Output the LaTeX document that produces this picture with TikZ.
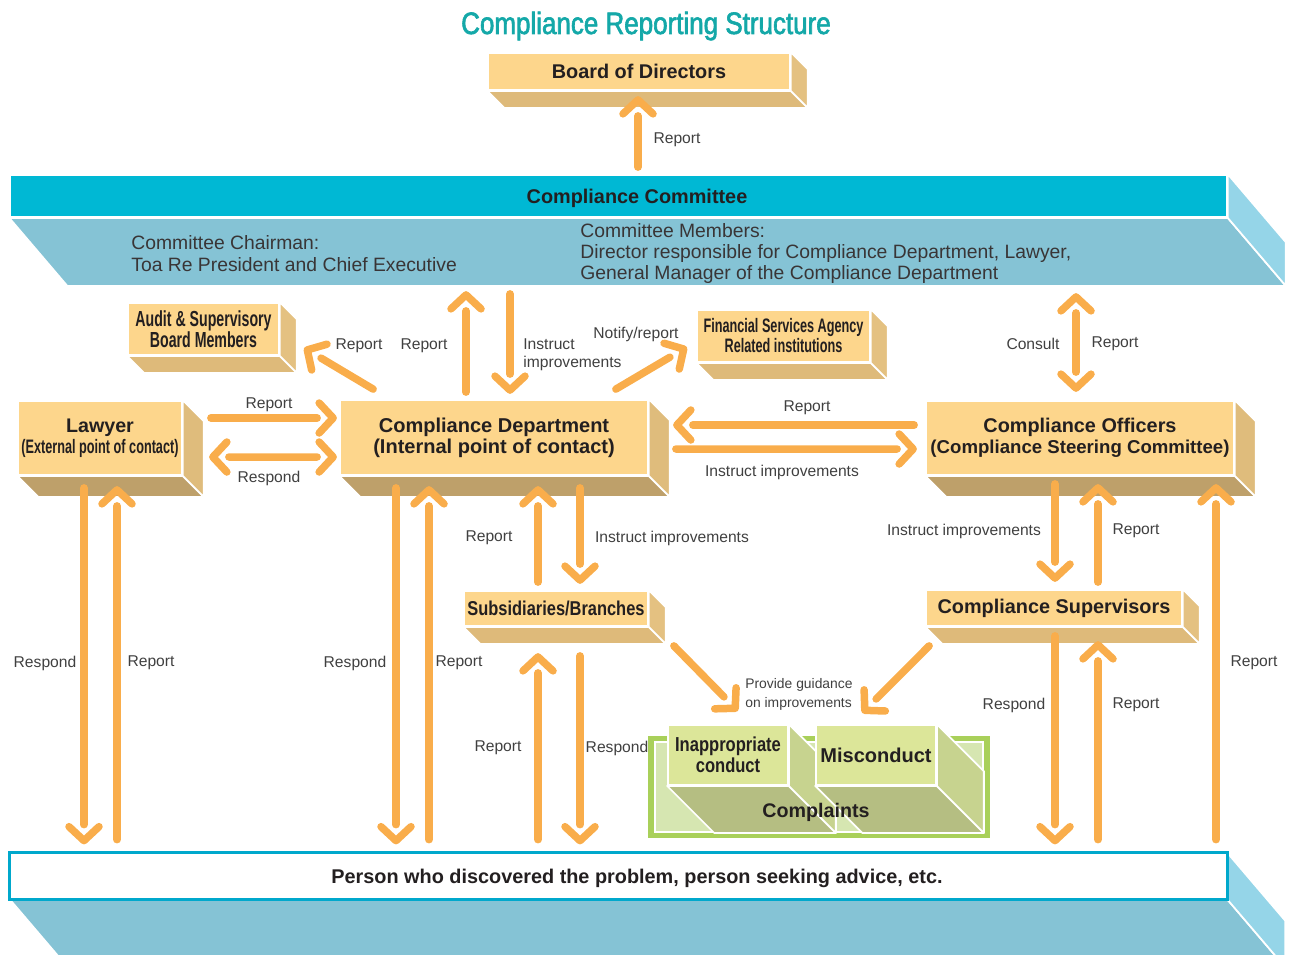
\documentclass[tikz,border=0pt]{standalone}
\usepackage{fontspec}
\setmainfont{Liberation Sans}
\newfontfamily\titlefont[FakeStretch=0.84,FakeBold=2]{Liberation Sans}
\newfontfamily\narrowfont[FakeStretch=0.65]{Liberation Sans}
\newfontfamily\semifont[FakeStretch=0.82]{Liberation Sans}
\usetikzlibrary{calc}
\definecolor{frontcol}{HTML}{FDD68C}
\definecolor{sidecol}{HTML}{E4C181}
\definecolor{basecol}{HTML}{DEBA7A}
\definecolor{darkbase}{HTML}{BEA06A}
\definecolor{darkside}{HTML}{DFBC7C}
\definecolor{cyantop}{HTML}{00B8D4}
\definecolor{bandcol}{HTML}{85C3D5}
\definecolor{bandside}{HTML}{95D5E8}
\definecolor{edgecyan}{HTML}{00A8CC}
\definecolor{flowcol}{HTML}{F9AD4B}
\definecolor{titlecol}{HTML}{14A8A8}
\definecolor{textdark}{HTML}{231F20}
\definecolor{labelgray}{HTML}{404040}
\definecolor{greenframe}{HTML}{A9D05A}
\definecolor{greeninner}{HTML}{D6E6B1}
\definecolor{greenfront}{HTML}{DCE699}
\definecolor{greenside}{HTML}{C7D38F}
\definecolor{greenbase}{HTML}{B5BE82}

\tikzset{
  flowline/.style={draw=flowcol, line width=0.15cm, line cap=round, line join=round},
  chev/.pic={\draw[flowline, shorten >=0pt, shorten <=0pt] (-18,-15) -- (-4,0) -- (-18,15);},
  frontbox/.style={fill=frontcol, draw=white, line width=1pt, inner sep=0pt, align=center, text=textdark},
  lbl/.style={font=\fontsize{8.9}{10.2}\selectfont, text=labelgray, inner sep=0pt, yshift=-0.04cm},
}

% 3D faces below and right of a front node
\newcommand{\solidbox}[4]{%
  \filldraw[fill=#4, draw=white, line width=1pt, line join=round] (#1.south west) -- (#1.south east) -- ++(#2,#2) -- ($(#1.south west)+(#2,#2)$) -- cycle;
  \filldraw[fill=#3, draw=white, line width=1pt, line join=round] (#1.north east) -- ++(#2,#2) -- ($(#1.south east)+(#2,#2)$) -- (#1.south east) -- cycle;}
\newcommand{\flowarrow}[2]{%
  \draw[flowline, shorten >=0.4cm] #1 -- #2;
  \path #1 -- #2 pic[pos=1, sloped, allow upside down] {chev};}
\newcommand{\flowboth}[2]{%
  \draw[flowline, shorten >=0.4cm, shorten <=0.4cm] #1 -- #2;
  \path #1 -- #2 pic[pos=1, sloped, allow upside down] {chev};
  \path #2 -- #1 pic[pos=1, sloped, allow upside down] {chev};}

\begin{document}
\begin{tikzpicture}[x=0.02cm, y=-0.02cm]
\useasboundingbox (0,0) rectangle (1295,954);
\clip (0,0) rectangle (1295,954);

\node[font=\titlefont\fontsize{17.6}{20}\selectfont, text=titlecol, inner sep=0pt] (title) at (646,26) {Compliance Reporting Structure};

%%% committee bar
\node[fill=cyantop, draw=white, line width=1pt, minimum width=24.34cm, minimum height=0.84cm, inner sep=0pt] (cc) at (618.5,196) {};
\filldraw[fill=bandcol, draw=white, line width=1pt] (cc.south west) -- (cc.south east) -- ++(58,68) -- ($(cc.south west)+(58,68)$) -- cycle;
\filldraw[fill=bandside, draw=white, line width=1pt] (cc.north east) -- ++(58,68) -- ($(cc.south east)+(58,68)$) -- (cc.south east) -- cycle;
\node[inner sep=0pt, text=textdark, font=\bfseries\fontsize{11.3}{13}\selectfont] (ccname) at (637,198) {Compliance Committee};
\node[anchor=west, align=left, inner sep=0pt, text=textdark!90, font=\fontsize{11}{12.1}\selectfont] (chair) at (131,253.5) {Committee Chairman:\\Toa Re President and Chief Executive};
\node[anchor=west, align=left, inner sep=0pt, text=textdark!90, font=\fontsize{11}{12.1}\selectfont] (members) at (580,253.5) {Committee Members:\\Director responsible for Compliance Department, Lawyer,\\General Manager of the Compliance Department};

%%% boxes
\node[frontbox, minimum width=6.04cm, minimum height=0.74cm, font=\bfseries\fontsize{11.3}{13}\selectfont] (board) at (639,71.5) {Board of Directors};
\solidbox{board}{17}{sidecol}{basecol}

\node[frontbox, minimum width=3.02cm, minimum height=1.04cm, font=\narrowfont\bfseries\fontsize{12.4}{11.9}\selectfont] (audit) at (203.5,329) {Audit \& Supervisory\\Board Members};
\solidbox{audit}{17}{sidecol}{basecol}

\node[frontbox, minimum width=3.46cm, minimum height=1.04cm, font=\narrowfont\bfseries\fontsize{11.1}{10.2}\selectfont] (fsa) at (783.5,336) {Financial Services Agency\\Related institutions};
\solidbox{fsa}{17}{sidecol}{basecol}

\node[frontbox, minimum width=3.28cm, minimum height=1.48cm, font=\bfseries\fontsize{11.2}{11.9}\selectfont] (lawyer) at (100,438) {Lawyer\\\narrowfont\fontsize{11.1}{11.9}\selectfont (External point of contact)};
\solidbox{lawyer}{21}{darkside}{darkbase}

\node[frontbox, minimum width=6.16cm, minimum height=1.5cm, font=\bfseries\fontsize{11.4}{11.9}\selectfont] (cd) at (494,437.5) {Compliance Department\\(Internal point of contact)};
\solidbox{cd}{21}{darkside}{darkbase}

\node[frontbox, minimum width=6.16cm, minimum height=1.48cm, font=\bfseries\fontsize{11.3}{11.9}\selectfont] (co) at (1080,438) {Compliance Officers\\\fontsize{10.6}{11.9}\selectfont(Compliance Steering Committee)};
\solidbox{co}{21}{darkside}{darkbase}

\node[frontbox, minimum width=3.68cm, minimum height=0.7cm, font=\semifont\bfseries\fontsize{11.4}{13}\selectfont] (subs) at (556,608.5) {Subsidiaries/Branches};
\solidbox{subs}{17}{sidecol}{basecol}

\node[frontbox, minimum width=5.12cm, minimum height=0.72cm, font=\bfseries\fontsize{11.3}{13}\selectfont] (sup) at (1054,608) {Compliance Supervisors};
\solidbox{sup}{17}{sidecol}{basecol}

%%% complaints
\fill[greenframe] (648,736) rectangle (990,838);
\filldraw[fill=greeninner, draw=white, line width=1pt] (655,742) rectangle (983,832);
\node[frontbox, fill=greenfront, minimum width=2.4cm, minimum height=1.2cm, font=\semifont\bfseries\fontsize{11.5}{11.9}\selectfont] (inapp) at (728,755) {Inappropriate\\conduct};
\solidbox{inapp}{47}{greenside}{greenbase}
\node[frontbox, fill=greenfront, minimum width=2.4cm, minimum height=1.2cm, font=\bfseries\fontsize{11.4}{13}\selectfont] (misc) at (876,755) {Misconduct};
\solidbox{misc}{47}{greenside}{greenbase}
\node[inner sep=0pt, text=textdark, font=\bfseries\fontsize{11.2}{13}\selectfont] (complaints) at (816,812) {Complaints};

%%% person bar
\node[fill=white, minimum width=24.34cm, minimum height=0.92cm, inner sep=0pt] (person) at (618.5,876) {};
\filldraw[fill=bandcol, draw=white, line width=1pt] (person.south west) -- (person.south east) -- ++(58,68) -- ($(person.south west)+(58,68)$) -- cycle;
\filldraw[fill=bandside, draw=white, line width=1pt] (person.north east) -- ++(58,68) -- ($(person.south east)+(58,68)$) -- (person.south east) -- cycle;
\draw[edgecyan, line width=0.06cm] (person.south west) rectangle (person.north east);
\node[inner sep=0pt, text=textdark, font=\bfseries\fontsize{11.3}{13}\selectfont] (persontext) at (637,878) {Person who discovered the problem, person seeking advice, etc.};

%%% labels
\node[lbl] (lbBoard) at (677,138) {Report};
\node[lbl] (lbCcUp) at (424,344) {Report};
\node[lbl] (lbAudit) at (359,344) {Report};
\node[lbl, anchor=west, align=left] (lbCcDown) at (523,352.5) {Instruct\\improvements};
\node[lbl] (lbFsa) at (636,332) {Notify/report};
\node[lbl] (lbConsult) at (1033,342) {Consult};
\node[lbl] (lbCoUp) at (1115,342) {Report};
\node[lbl] (lbLawIn) at (269,403) {Report};
\node[lbl] (lbLawOut) at (269,476) {Respond};
\node[lbl] (lbCoIn) at (807,406) {Report};
\node[lbl] (lbCoOut) at (782,470) {Instruct improvements};
\node[lbl] (lbSubUp) at (489,536) {Report};
\node[lbl] (lbSubDown) at (672,536) {Instruct improvements};
\node[lbl] (lbSupDown) at (964,529) {Instruct improvements};
\node[lbl] (lbSupUp) at (1136,529) {Report};
\node[lbl] (lbLawResp) at (45,661) {Respond};
\node[lbl] (lbLawRep) at (151,661) {Report};
\node[lbl] (lbCdResp) at (355,661) {Respond};
\node[lbl] (lbCdRep) at (459,661) {Report};
\node[lbl] (lbCoRep) at (1254,661) {Report};
\node[lbl] (lbSubRep) at (498,746) {Report};
\node[lbl] (lbSubResp) at (617,746) {Respond};
\node[lbl, anchor=west, align=left, font=\fontsize{7.9}{10.8}\selectfont] (lbGuide) at (745,692) {Provide guidance\\on improvements};
\node[lbl] (lbSupResp) at (1014,703) {Respond};
\node[lbl] (lbSupRep) at (1136,703) {Report};

%%% arrows
\flowarrow{($(cc.north -| board.south)+(-1,-7)$)}{($(board.south)+(-1,5)$)}
\flowarrow{($(cd.north)+(-28,-7)$)}{($(cc.south -| cd.north)+(-28,73)$)}
\flowarrow{($(cc.south -| cd.north)+(16,76)$)}{($(cd.north)+(16,-5)$)}
\flowarrow{($(cd.north west)+(34,-10)$)}{($(audit.south east)+(24,-8)$)}
\flowarrow{($(cd.north east)+(-33,-10)$)}{($(fsa.west)+(-9,11)$)}
\flowarrow{($(lawyer.east)+(28,-20)$)}{($(cd.west)+(-2,-19.5)$)}
\flowboth{($(lawyer.east)+(26,19)$)}{($(cd.west)+(-2,19.5)$)}
\flowarrow{($(co.west)+(-11,-13)$)}{($(cd.east)+(24,-12.5)$)}
\flowarrow{($(cd.east)+(27,11.5)$)}{($(co.west)+(-8,11)$)}
\flowboth{($(cc.south -| co.north)+(-4,75)$)}{($(co.north)+(-4,-8)$)}
\flowarrow{($(lawyer.south)+(-16,12)$)}{($(person.north -| lawyer.south)+(-16,-8)$)}
\flowarrow{($(person.north -| lawyer.south)+(17,-13)$)}{($(lawyer.south)+(17,10)$)}
\flowarrow{($(cd.south)+(-98,12)$)}{($(person.north -| cd.south)+(-98,-8)$)}
\flowarrow{($(person.north -| cd.south)+(-65,-13)$)}{($(cd.south)+(-65,10)$)}
\flowarrow{($(subs.north)+(-18,-8)$)}{($(cd.south)+(44,10)$)}
\flowarrow{($(cd.south)+(86,12)$)}{($(subs.north)+(24,-6)$)}
\flowarrow{($(person.north -| subs.south)+(-18,-13)$)}{($(subs.south)+(-18,26)$)}
\flowarrow{($(subs.south)+(24,29)$)}{($(person.north -| subs.south)+(24,-8)$)}
\flowarrow{($(subs.south east)+(25,19)$)}{($(inapp.north)+(10,-13)$)}
\flowarrow{($(sup.south west)+(4,19)$)}{($(misc.north)+(-14,-11)$)}
\flowarrow{($(co.south)+(-25,8)$)}{($(sup.north)+(1,-7)$)}
\flowarrow{($(sup.north)+(44,-7)$)}{($(co.south)+(18,8)$)}
\flowarrow{($(person.north -| co.south)+(136,-13)$)}{($(co.south)+(136,8)$)}
\flowarrow{($(sup.south)+(1,9)$)}{($(person.north -| sup.south)+(1,-8)$)}
\flowarrow{($(person.north -| sup.south)+(44,-13)$)}{($(sup.south)+(44,14)$)}
\end{tikzpicture}
\end{document}
